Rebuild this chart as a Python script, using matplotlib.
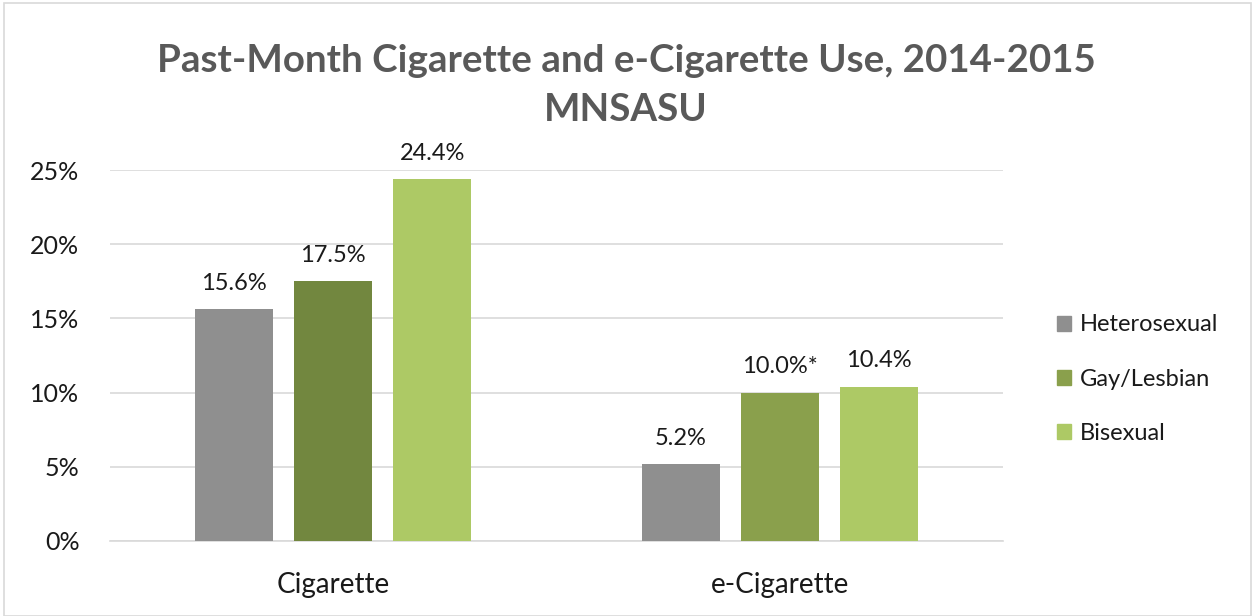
import matplotlib
matplotlib.use("Agg")
from matplotlib import pyplot as plt
from matplotlib.patches import Rectangle, Patch
import numpy as np

plt.rcParams['font.family'] = ['Lato', 'DejaVu Sans']

categories = ["Cigarette", "e-Cigarette"]
groups = ["Heterosexual", "Gay/Lesbian", "Bisexual"]
heterosexual = [15.6, 5.2]
gay_lesbian = [17.5, 10.0]
bisexual = [24.4, 10.4]
value_labels = [["15.6%", "5.2%"], ["17.5%", "10.0%*"], ["24.4%", "10.4%"]]
yticks = [0, 5, 10, 15, 20, 25]

# per-bar colours (the Cigarette gay/lesbian bar is darker than the rest)
bar_colors = [["#8f8f8f", "#8f8f8f"],
              ["#72873f", "#8aa04c"],
              ["#adc965", "#adc965"]]
legend_colors = ["#8f8f8f", "#8aa04c", "#adc965"]

fig = plt.figure(figsize=(12.52, 6.16), dpi=100)
ax = fig.add_axes([110 / 1252, 1 - 541 / 616, 893 / 1252, 371 / 616])

x = np.arange(len(categories))
width = 0.175
step = 0.222
series = [heterosexual, gay_lesbian, bisexual]
for i, vals in enumerate(series):
    pos = x + (i - 1) * step
    ax.bar(pos, vals, width, color=bar_colors[i], zorder=3)
    for p, v, lab in zip(pos, vals, value_labels[i]):
        ax.annotate(lab, (p, v), xytext=(0, 11), textcoords="offset points",
                    ha="center", va="bottom", fontsize=17, color="#1a1a1a")

ax.set_xlim(-0.5, 1.5)
ax.set_ylim(0, 25)
ax.set_yticks(yticks)
ax.set_yticklabels([f"{t}%" for t in yticks], fontsize=18, color="#1a1a1a")
ax.set_xticks(x)
ax.set_xticklabels(categories, fontsize=20, color="#1a1a1a")
ax.tick_params(axis="both", length=0)
ax.tick_params(axis="y", pad=22)
ax.tick_params(axis="x", pad=22)
ax.grid(axis="y", color="#d9d9d9", linewidth=1.2, zorder=0)
for s in ["top", "right", "left"]:
    ax.spines[s].set_visible(False)
ax.spines["bottom"].set_color("#d9d9d9")
ax.spines["bottom"].set_linewidth(1.2)

handles = [Patch(color=c) for c in legend_colors]
leg = fig.legend(handles, groups, loc="center left", bbox_to_anchor=(1036 / 1252, 1 - 379 / 616),
                 frameon=False, fontsize=17, handlelength=0.6, handleheight=0.6,
                 handletextpad=0.35, labelspacing=1.4)
for t in leg.get_texts():
    t.set_color("#1a1a1a")

fig.text(0.5, 1 - 61 / 616, "Past-Month Cigarette and e-Cigarette Use, 2014-2015",
         ha="center", va="center", fontsize=27.7, fontweight="bold", color="#595959")
fig.text(0.5, 1 - 110 / 616, "MNSASU",
         ha="center", va="center", fontsize=27.7, fontweight="bold", color="#595959")

fig.patches.append(Rectangle((4 / 1252, 0), 1 - 5 / 1252, 1 - 3 / 616, transform=fig.transFigure,
                             fill=False, edgecolor="#d9d9d9", linewidth=1.2))

fig.savefig("out.png", dpi=100, facecolor="white")
